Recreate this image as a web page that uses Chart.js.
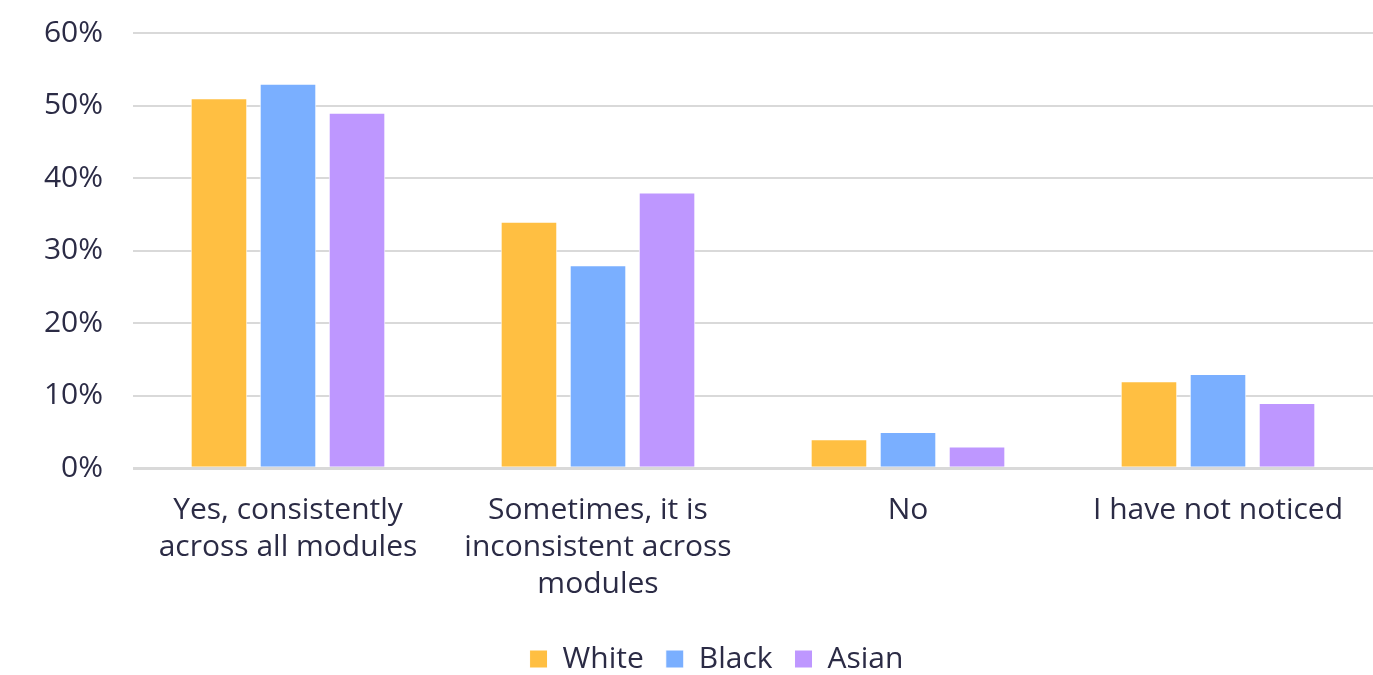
<!DOCTYPE html>
<html>
<head>
<meta charset="utf-8">
<style>
  html, body { margin: 0; padding: 0; background: #fff; }
  #wrap { width: 1373px; height: 675px; }
</style>
<script src="https://cdn.jsdelivr.net/npm/chart.js@4.4.4/dist/chart.umd.min.js"></script>
</head>
<body>
<div id="wrap"><canvas id="chart" width="1373" height="675"></canvas></div>
<script>
/* ── Data ─────────────────────────────────────────────────────────── */
const categories = [
  ["Yes, consistently", "across all modules"],
  ["Sometimes, it is", "inconsistent across", "modules"],
  "No",
  "I have not noticed"
];
const white = [51, 34, 4, 12];
const black = [53, 28, 5, 13];
const asian = [49, 38, 3, 9];
const yTicks = [0, 10, 20, 30, 40, 50, 60];

const TEXT = "#2b2b45";
const FONT = "'Open Sans', sans-serif";

function series(label, data, color) {
  return { label, data, backgroundColor: color, borderColor: "#ffffff", borderWidth: 1,
    categoryPercentage: 0.668, barPercentage: 0.82 };
}

// legend sits a little right of the canvas centre in the original
const legendShift = {
  id: "legendShift",
  afterLayout(chart) { chart.legend.left += 30; chart.legend.right += 30; }
};

new Chart(document.getElementById("chart"), {
  type: "bar",
  data: {
    labels: categories,
    datasets: [
      series("White", white, "#FFBF42"),
      series("Black", black, "#7AAFFF"),
      series("Asian", asian, "#BE97FF")
    ]
  },
  plugins: [legendShift],
  options: {
    responsive: false,
    animation: false,
    layout: { padding: 0 },
    plugins: {
      tooltip: { enabled: false },
      legend: {
        position: "bottom",
        maxHeight: 53,
        labels: { color: TEXT, font: { family: FONT, size: 30 }, boxWidth: 18, boxHeight: 18, padding: 22 }
      }
    },
    scales: {
      x: {
        afterFit: s => { s.height -= 5; },
        grid: { display: false, drawTicks: false },
        border: { display: false },
        ticks: { color: TEXT, font: { family: FONT, size: 30, lineHeight: 1.23 }, padding: 24, maxRotation: 0, autoSkip: false }
      },
      y: {
        min: 0, max: 60,
        afterFit: s => { s.width = 133; s.paddingTop = 33; },
        afterBuildTicks: s => { s.ticks = yTicks.map(v => ({ value: v })); },
        grid: { color: "#d9d9d9", lineWidth: c => c.tick && c.tick.value === 0 ? 3 : 2, drawTicks: false },
        border: { display: false },
        ticks: { color: TEXT, font: { family: FONT, size: 30 }, padding: 30, callback: v => v + "%" }
      }
    }
  }
});
</script>
</body>
</html>
